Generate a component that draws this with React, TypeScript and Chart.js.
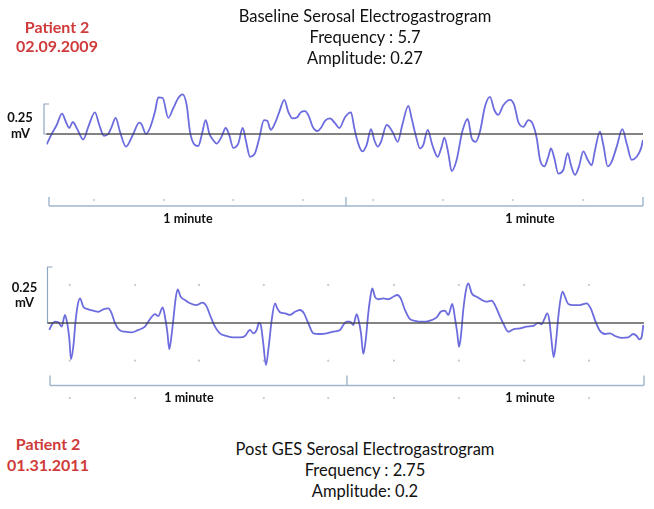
import React, { useEffect, useRef } from "react";
import { Chart, registerables } from "chart.js";

Chart.register(...registerables);

// ---------- Data (time in seconds, amplitude in mV) ----------
const baselineTime = [
  -0.46, 0.55, 1.56, 2.63, 3.43, 4.1, 4.79, 5.6, 6.93, 7.94, 9.29, 10.16, 11.11, 11.98, 12.67, 13.47,
  14.34, 15.56, 16.91, 18.24, 18.73, 19.6, 20.4, 21.41, 22.08, 22.97, 24.1, 25.11, 26.12, 27.01, 27.82,
  28.48, 29.35, 30.16, 30.85, 31.66, 32.38, 33.07, 33.88, 34.89, 35.7, 36.42, 37.23, 38.24, 39.13, 39.8,
  40.61, 41.62, 42.48, 43.43, 44.1, 44.79, 45.66, 46.53, 47.54, 48.34, 49.23, 50.16, 50.85, 51.72, 52.53,
  53.27, 54.2, 55.09, 55.76, 56.77, 57.78, 58.65, 59.8, 61.01, 61.68, 62.36, 63.29, 64.18, 65.05, 65.72,
  66.4, 67.07, 68.22, 68.75, 69.56, 70.44, 71.37, 72.59, 73.27, 74.08, 74.95, 75.62, 76.51, 77.43, 78.53,
  79.33, 79.86, 80.67, 81.35, 82.36, 83.49, 84.59, 85.39, 86.2, 87.07, 88.08, 89.09, 89.96, 90.77, 91.78,
  93.13, 94.0, 94.81, 95.82, 96.83, 97.64, 98.53, 99.19, 100.06, 100.87, 101.41, 102.08, 102.89, 103.9,
  104.79, 105.45, 106.26, 107.07, 107.94, 108.83, 109.64, 110.3, 111.31, 111.98, 112.87, 113.68, 114.69,
  115.82, 116.71, 117.72, 118.73, 119.6, 120.0,
];
const baselineMv = [
  -0.086, 0.0, 0.075, 0.17, 0.1, 0.05, 0.1, 0.05, -0.045, 0.06, 0.18, 0.075, -0.015, 0.0, 0.06, 0.135,
  0.02, -0.105, -0.01, 0.095, 0.08, 0.0, 0.05, 0.185, 0.305, 0.3, 0.135, 0.215, 0.3, 0.33, 0.24,
  0.02, -0.086, -0.1, -0.01, 0.115, 0.005, -0.045, -0.08, -0.02, 0.05, -0.01, -0.115, -0.08, 0.05, -0.06,
  -0.19, -0.16, -0.035, 0.115, 0.11, 0.035, 0.09, 0.185, 0.285, 0.185, 0.13, 0.14, 0.18, 0.19, 0.145,
  0.06, 0.025, 0.06, 0.11, 0.13, 0.09, 0.05, 0.14, 0.18, 0.05, -0.065, -0.145, -0.09, 0.04, -0.05,
  -0.105, -0.065, 0.075, 0.06, 0.005, -0.065, 0.075, 0.235, 0.13, -0.01, -0.12, -0.09, 0.035, -0.09, -0.19,
  -0.105, -0.03, -0.16, -0.31, -0.215, 0.02, 0.125, -0.035, -0.065, 0.02, 0.23, 0.31, 0.2, 0.16, 0.24,
  0.285, 0.24, 0.1, 0.06, 0.115, 0.09, -0.035, -0.215, -0.27, -0.19, -0.12, -0.2, -0.33, -0.3,
  -0.16, -0.26, -0.34, -0.27, -0.145, -0.215, -0.26, -0.135, 0.02, -0.09, -0.27, -0.23, -0.105,
  0.04, -0.08, -0.215, -0.19, -0.12, -0.05,
];

const postTime = [
  -0.14, 0.34, 1.01, 1.68, 2.36, 3.03, 3.49, 3.9, 4.24, 4.71, 5.19, 5.6, 6.06, 6.73, 7.74, 8.75, 9.76,
  10.77, 11.78, 12.46, 13.13, 14.0, 15.15, 16.51, 17.84, 19.19, 20.2, 21.21, 21.88, 22.77, 23.23, 23.7,
  24.1, 24.44, 24.91, 25.39, 25.8, 26.4, 27.27, 28.28, 29.64, 30.85, 31.66, 32.46, 33.33, 34.34, 35.7,
  37.03, 38.38, 39.39, 40.4, 41.07, 41.76, 42.22, 42.63, 43.09, 43.64, 44.18, 44.79, 45.45, 45.92, 46.46,
  47.47, 48.48, 49.49, 50.51, 51.31, 52.18, 53.19, 54.55, 55.9, 57.23, 58.59, 59.25, 59.94, 60.61, 61.27,
  61.96, 62.48, 62.83, 63.29, 63.78, 64.3, 64.79, 65.11, 65.66, 66.32, 67.33, 68.34, 69.35, 70.16, 70.85,
  71.72, 72.73, 73.74, 74.75, 75.96, 77.11, 78.12, 78.93, 79.8, 80.46, 81.27, 81.82, 82.28, 82.63, 82.97,
  83.49, 84.04, 84.51, 85.19, 86.2, 87.21, 88.22, 89.23, 90.04, 90.91, 91.72, 92.59, 93.6, 94.95, 96.3,
  97.64, 98.65, 99.33, 99.86, 100.46, 100.87, 101.27, 101.76, 102.22, 102.69, 103.17, 103.58, 104.04,
  104.71, 105.72, 107.07, 108.42, 109.23, 110.1, 110.97, 112.12, 113.13, 114.14, 115.49, 116.83, 117.84,
  118.53, 119.05, 119.54, 119.86,
];
const postMv = [
  -0.031, -0.009, 0.006, 0.003, -0.016, 0.036, -0.002, -0.068, -0.162, -0.106, 0.013, 0.08, 0.11, 0.073, 0.061, 0.055, 0.05,
  0.061, 0.065, 0.043, -0.001, -0.031, -0.039, -0.042, -0.031, -0.016, 0.017, 0.04, 0.031, 0.07, 0.028, -0.039,
  -0.117, -0.076, 0.013, 0.11, 0.15, 0.117, 0.103, 0.088, 0.08, 0.091, 0.073, 0.028, -0.016, -0.046, -0.058,
  -0.064, -0.064, -0.058, -0.031, -0.046, -0.031, 0.001, -0.013, -0.091, -0.188, -0.106, 0.013, 0.088, 0.065, 0.048,
  0.043, 0.036, 0.05, 0.058, 0.043, -0.001, -0.046, -0.049, -0.046, -0.039, -0.031, -0.009, 0.006, 0.006, -0.009,
  0.04, -0.001, -0.046, -0.138, -0.076, 0.043, 0.125, 0.155, 0.117, 0.106, 0.11, 0.106, 0.117, 0.125, 0.11,
  0.058, 0.017, 0.01, 0.006, 0.006, 0.013, 0.025, 0.05, 0.055, 0.036, 0.085, 0.021, -0.046, -0.106, -0.068,
  0.058, 0.147, 0.177, 0.133, 0.117, 0.103, 0.095, 0.1, 0.073, 0.028, -0.009, -0.039, -0.028, -0.024, -0.016,
  -0.013, 0.001, -0.006, 0.017, 0.043, 0.013, -0.068, -0.153, -0.083, 0.028, 0.11, 0.14, 0.117,
  0.085, 0.08, 0.08, 0.088, 0.065, 0.013, -0.031, -0.049, -0.046, -0.058, -0.066, -0.064, -0.049,
  -0.058, -0.073, -0.061, -0.009,
];

const minuteMarks = [0, 60, 120];
const minuteLabels = ["1 minute", "1 minute"];
const scaleBarMv = 0.25;
const scaleBarLabel = ["0.25", "mV"];

const baselineDotTimes = [9.1, 23.2, 37.2, 51.3, 65.5, 79.6, 93.7, 107.9];
const baselineDotRows = [-0.55];
const postDotTimes = [4.0, 17.2, 30.1, 43.2, 56.2, 69.5, 82.6, 95.8, 108.9];
const postDotRows = [0.17, -0.168, -0.335];

const baselineTitle = ["Baseline Serosal Electrogastrogram", "Frequency : 5.7", "Amplitude: 0.27"];
const postTitle = ["Post GES Serosal Electrogastrogram", "Frequency : 2.75", "Amplitude: 0.2"];
const baselinePatient = ["Patient 2", "02.09.2009"];
const postPatient = ["Patient 2", "01.31.2011"];

// ---------- Chart ----------
type DecorCfg = {
  bracketMv: number;
  bracketTick: number;
  scaleBarOffset: number;
  scaleBarSerif: number;
  dotTimes: number[];
  dotRows: number[];
};

function makeDecor(cfg: DecorCfg) {
  return {
    id: "egmDecor",
    beforeDatasetsDraw(chart: any) {
      const { ctx, chartArea } = chart;
      const xs = chart.scales.x;
      const ys = chart.scales.y;
      ctx.save();
      // grid dots
      ctx.fillStyle = "#c9c9c9";
      cfg.dotRows.forEach((r) => {
        const py = ys.getPixelForValue(r);
        cfg.dotTimes.forEach((t) => {
          const px = xs.getPixelForValue(t);
          ctx.beginPath();
          ctx.arc(px, py, 1.1, 0, Math.PI * 2);
          ctx.fill();
        });
      });
      // time bracket
      ctx.strokeStyle = "#9fb6cd";
      ctx.lineWidth = 1.4;
      const by = ys.getPixelForValue(cfg.bracketMv);
      const x0 = xs.getPixelForValue(minuteMarks[0]);
      const x1 = xs.getPixelForValue(minuteMarks[minuteMarks.length - 1]);
      ctx.beginPath();
      ctx.moveTo(x0, by);
      ctx.lineTo(x1, by);
      minuteMarks.forEach((m) => {
        const px = xs.getPixelForValue(m);
        ctx.moveTo(px, by);
        ctx.lineTo(px, by - cfg.bracketTick);
      });
      ctx.stroke();
      // amplitude scale bar
      ctx.strokeStyle = "#8fa6c2";
      ctx.lineWidth = 1.2;
      const sx = chartArea.left - cfg.scaleBarOffset;
      const sy0 = ys.getPixelForValue(0);
      const sy1 = ys.getPixelForValue(scaleBarMv);
      ctx.beginPath();
      ctx.moveTo(sx + cfg.scaleBarSerif, sy1);
      ctx.lineTo(sx, sy1);
      ctx.lineTo(sx, sy0);
      ctx.lineTo(sx + cfg.scaleBarSerif, sy0);
      ctx.stroke();
      ctx.restore();
    },
    afterDatasetsDraw(chart: any) {
      const { ctx, chartArea } = chart;
      const ys = chart.scales.y;
      const py = ys.getPixelForValue(0);
      ctx.save();
      ctx.strokeStyle = "rgba(60,60,60,0.85)";
      ctx.lineWidth = 1.6;
      ctx.beginPath();
      ctx.moveTo(chartArea.left, py);
      ctx.lineTo(chartArea.right, py);
      ctx.stroke();
      ctx.restore();
    },
  };
}

type TraceProps = {
  top: number;
  height: number;
  times: number[];
  values: number[];
  yLimit: number;
  padding: { left: number; right: number; top: number; bottom: number };
  decor: DecorCfg;
};

function Trace({ top, height, times, values, yLimit, padding, decor }: TraceProps) {
  const ref = useRef<HTMLCanvasElement | null>(null);
  useEffect(() => {
    if (!ref.current) return;
    const chart = new Chart(ref.current, {
      type: "line",
      data: {
        datasets: [
          {
            data: times.map((t, i) => ({ x: t, y: values[i] })),
            borderColor: "rgba(92,92,218,0.9)",
            borderWidth: 1.8,
            pointRadius: 0,
            fill: false,
            cubicInterpolationMode: "monotone",
          },
        ],
      },
      options: {
        animation: false,
        responsive: false,
        events: [],
        layout: { padding },
        scales: {
          x: { type: "linear", min: -0.5, max: 120, display: false },
          y: { type: "linear", min: -yLimit, max: yLimit, display: false },
        },
        plugins: { legend: { display: false }, tooltip: { enabled: false }, title: { display: false } },
      },
      plugins: [makeDecor(decor)],
    } as any);
    return () => chart.destroy();
  }, []);
  return (
    <canvas
      ref={ref}
      width={654}
      height={height}
      style={{ position: "absolute", left: 0, top, width: 654, height }}
    />
  );
}

function Label({ x, y, text, size = 16, bold = false, color = "#111" }: any) {
  return (
    <div
      style={{
        position: "absolute",
        left: x,
        top: y,
        transform: "translate(-50%, -50%)",
        whiteSpace: "nowrap",
        fontSize: size,
        fontWeight: bold ? 700 : 400,
        color,
        lineHeight: 1,
      }}
    >
      {text}
    </div>
  );
}

export default function App() {
  const red = "#cf3a3a";
  return (
    <div
      style={{
        position: "absolute",
        left: 0,
        top: 0,
        width: 654,
        height: 509,
        background: "#fff",
        fontFamily: "Lato, 'Open Sans', sans-serif",
        overflow: "hidden",
      }}
    >
      <Trace
        top={0}
        height={230}
        times={baselineTime}
        values={baselineMv}
        yLimit={0.41667}
        padding={{ left: 46.5, right: 11, top: 84, bottom: 46 }}
        decor={{
          bracketMv: -0.6,
          bracketTick: 9,
          scaleBarOffset: 2.5,
          scaleBarSerif: 5,
          dotTimes: baselineDotTimes,
          dotRows: baselineDotRows,
        }}
      />
      <Trace
        top={230}
        height={200}
        times={postTime}
        values={postMv}
        yLimit={0.22321}
        padding={{ left: 47.5, right: 10, top: 43, bottom: 57 }}
        decor={{
          bracketMv: -0.279,
          bracketTick: 10,
          scaleBarOffset: 0,
          scaleBarSerif: 5,
          dotTimes: postDotTimes,
          dotRows: postDotRows,
        }}
      />

      <Label x={57} y={27} text={baselinePatient[0]} bold color={red} />
      <Label x={57} y={46} text={baselinePatient[1]} bold color={red} />
      <Label x={365} y={16} text={baselineTitle[0]} size={16.5} />
      <Label x={365} y={37} text={baselineTitle[1]} size={16.5} />
      <Label x={365} y={58} text={baselineTitle[2]} size={16.5} />

      <Label x={20} y={117} text={scaleBarLabel[0]} size={13} bold />
      <Label x={20.5} y={133} text={scaleBarLabel[1]} size={13} bold />
      <Label x={188} y={219} text={minuteLabels[0]} size={12.5} bold />
      <Label x={530} y={219} text={minuteLabels[1]} size={12.5} bold />

      <Label x={24.5} y={287} text={scaleBarLabel[0]} size={13} bold />
      <Label x={24.5} y={302} text={scaleBarLabel[1]} size={13} bold />
      <Label x={189} y={398} text={minuteLabels[0]} size={12.5} bold />
      <Label x={530} y={398} text={minuteLabels[1]} size={12.5} bold />

      <Label x={48} y={444} text={postPatient[0]} bold color={red} />
      <Label x={48} y={465} text={postPatient[1]} bold color={red} />
      <Label x={365} y={449} text={postTitle[0]} size={16.5} />
      <Label x={365} y={470} text={postTitle[1]} size={16.5} />
      <Label x={365} y={491} text={postTitle[2]} size={16.5} />
    </div>
  );
}
